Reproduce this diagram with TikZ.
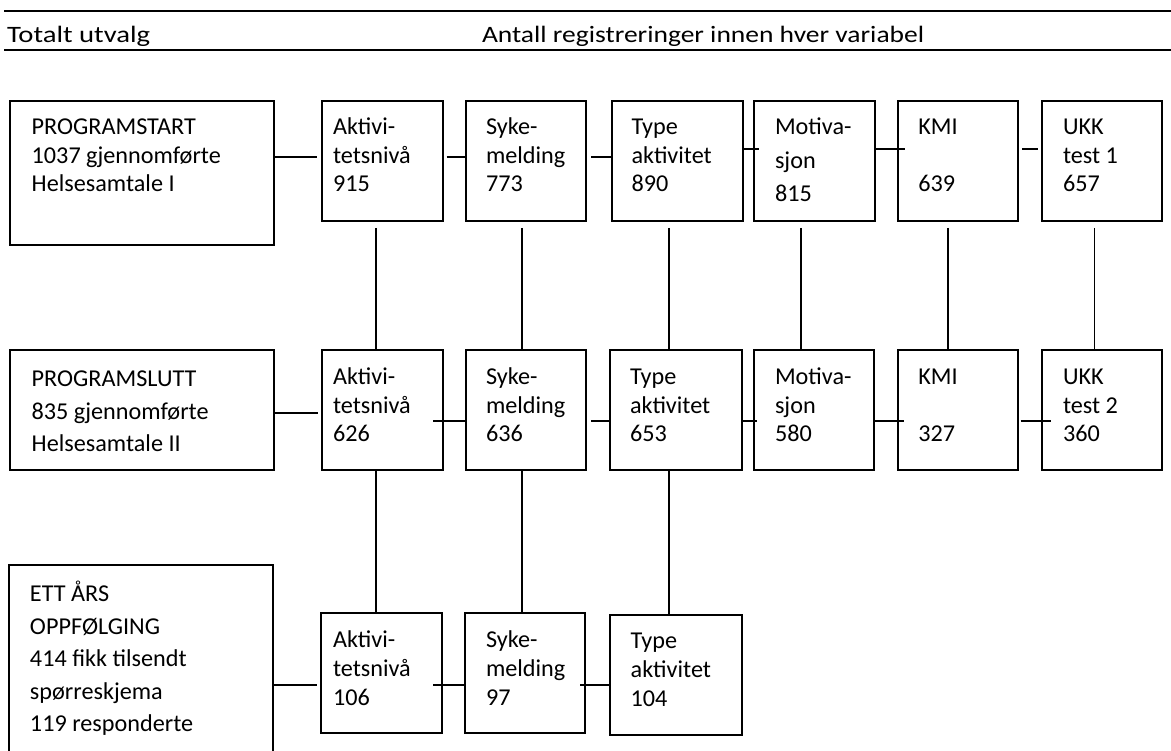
\documentclass[tikz,border=0pt]{standalone}
\usepackage{fontspec}
\usepackage{graphicx}
\setmainfont{Carlito}
\newcommand\bx[5]{\node[box, anchor=north west, minimum width={(#4)-(#2)}, minimum height={(#5)-(#3)}] (#1) at (#2,#3) {};}
\newcommand\hc[5]{\draw[con] ([xshift=#3pt]#1.east |- 0,#5) -- ([xshift=#4pt]#2.west |- 0,#5);}
\newcommand\vc[4]{\draw[con] ([yshift=-#4pt]#1.south -| #3,0) -- (#2.north -| #3,0);}
\begin{document}
\begin{tikzpicture}[x=1pt,y=-1pt,
  box/.style={draw, line width=2pt, inner sep=0pt, outer sep=0pt, rectangle},
  con/.style={line width=1.7pt},
  rule/.style={line width=2.5pt},
  txt/.style={inner sep=0pt, outer sep=0pt, align=left, anchor=base west, font=\fontsize{24.2}{28.3}\selectfont},
  head/.style={inner sep=0pt, outer sep=0pt, anchor=base west, font=\fontsize{23.5}{28}\selectfont},
  wide/.style={font=\fontsize{24.2}{32.5}\selectfont},
  mid/.style={font=\fontsize{24.2}{29}\selectfont},
  tall/.style={font=\fontsize{24.2}{33.3}\selectfont}]
\useasboundingbox (0,0) rectangle (1171,751);
\clip (0,0) rectangle (1171,751);
% header
\draw[rule] (4,11) -- (1171,11);
\draw[rule] (4,50) -- (1171,50);
\node[head] (h1) at (7,42.7) {\scalebox{1.22}[1]{Totalt utvalg}};
\node[head] (h2) at (482,42.7) {\scalebox{1.17}[1]{Antall registreringer innen hver variabel}};
% row 1 boxes
\bx{b1}{9.5}{101}{274}{245.5}
\bx{a1}{321.7}{101}{442.5}{221}
\bx{s1}{466}{101}{585.5}{221}
\bx{t1}{611.5}{101}{743}{221}
\bx{m1}{754}{101}{874.5}{221}
\bx{k1}{897.5}{101}{1018}{221}
\bx{u1}{1042}{101}{1162}{221}
% row 2 boxes
\bx{b2}{10}{350}{274}{470}
\bx{a2}{321.7}{350}{442.5}{470}
\bx{s2}{466}{350}{585.5}{470}
\bx{t2}{610}{350}{742.3}{470}
\bx{m2}{754}{350}{874}{470}
\bx{k2}{897.7}{350}{1017.7}{470}
\bx{u2}{1041.7}{350}{1162}{470}
% row 3 boxes
\bx{b3}{9.3}{565}{273.3}{790}
\bx{a3}{320.7}{613.3}{441.7}{733.3}
\bx{s3}{465}{613.3}{585}{733.3}
\bx{t3}{610}{615}{742.3}{735}
% texts row 1 (anchored at the baseline of the last line)
\node[txt] (tb1) at (31.7,191.6) {PROGRAMSTART\\1037 gjennomførte\\Helsesamtale I};
\node[txt] (ta1) at (333,191.6) {Aktivi-\\tetsnivå\\915};
\node[txt] (ts1) at (486,191.6) {Syke-\\melding\\773};
\node[txt] (tt1) at (631.5,191.6) {Type\\aktivitet\\890};
\node[txt,tall] (tm1) at (775,201.6) {Motiva-\\sjon\\815};
\node[txt] (tk1) at (918.3,191.6) {KMI\\\mbox{}\\639};
\node[txt] (tu1) at (1063,191.6) {UKK\\test 1\\657};
% texts row 2
\node[txt,wide] (tb2) at (31.7,451.7) {PROGRAMSLUTT\\835 gjennomførte\\Helsesamtale II};
\node[txt] (ta2) at (333,441.6) {Aktivi-\\tetsnivå\\626};
\node[txt] (ts2) at (486,441.6) {Syke-\\melding\\636};
\node[txt] (tt2) at (630,441.6) {Type\\aktivitet\\653};
\node[txt] (tm2) at (775,441.6) {Motiva-\\sjon\\580};
\node[txt] (tk2) at (918.3,441.6) {KMI\\\mbox{}\\327};
\node[txt] (tu2) at (1063,441.6) {UKK\\test 2\\360};
% texts row 3
\node[txt,wide] (tb3) at (30,731.7) {ETT ÅRS\\OPPFØLGING\\414 fikk tilsendt\\spørreskjema\\119 responderte};
\node[txt,mid] (ta3) at (333,705.3) {Aktivi-\\tetsnivå\\106};
\node[txt,mid] (ts3) at (486,705.3) {Syke-\\melding\\97};
\node[txt,mid] (tt3) at (630.7,706.3) {Type\\aktivitet\\104};
% horizontal connectors row 1
\hc{b1}{a1}{0}{-4.7}{156.7}
\hc{a1}{s1}{4.2}{0}{156.7}
\hc{s1}{t1}{5.5}{0}{156.7}
\hc{t1}{m1}{0}{5.3}{149}
\hc{m1}{k1}{0}{7.5}{149}
\hc{k1}{u1}{4.3}{-3.7}{149}
% row 2
\hc{b2}{a2}{0}{-3.4}{413.3}
\hc{a2}{s2}{-9.5}{0}{420.7}
\hc{s2}{t2}{5.5}{0}{420.7}
\hc{t2}{m2}{0}{3.3}{420.7}
\hc{m2}{k2}{0}{6.6}{420.7}
\hc{k2}{u2}{3}{9.3}{420.7}
% row 3
\hc{b3}{a3}{0}{-3.4}{685}
\hc{a3}{s3}{-8.4}{0}{685}
\hc{s3}{t3}{-5}{0}{685}
% vertical connectors
\vc{a1}{a2}{376}{7}
\vc{s1}{s2}{522}{7}
\vc{t1}{t2}{669}{7}
\vc{m1}{m2}{800.7}{7}
\vc{k1}{k2}{948.3}{7}
\vc{u1}{u2}{1094.5}{7}
\vc{a2}{a3}{376}{0}
\vc{s2}{s3}{522.3}{0}
\vc{t2}{t3}{669}{0}
\end{tikzpicture}
\end{document}
